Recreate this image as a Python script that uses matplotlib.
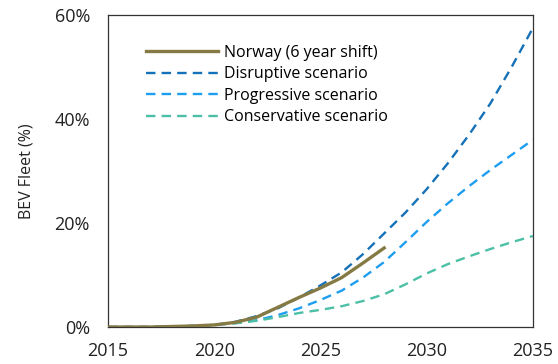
import matplotlib.pyplot as plt
from matplotlib.ticker import FuncFormatter

plt.rcParams['font.family'] = ['Open Sans', 'DejaVu Sans']

years = list(range(2015, 2036))
norway_years = list(range(2015, 2029))
norway = [0, 0, 0, 0.1, 0.2, 0.4, 0.9, 1.9, 3.8, 5.7, 7.5, 9.5, 12.3, 15.2]
disruptive = [0, 0, 0, 0.1, 0.2, 0.4, 1.0, 2.1, 3.6, 5.7, 8.0, 10.5, 14.0, 18.0,
              22.0, 26.5, 31.5, 37.0, 43.0, 50.0, 57.5]
progressive = [0, 0, 0, 0.1, 0.2, 0.4, 0.8, 1.3, 2.3, 3.6, 5.2, 7.0, 9.5, 12.5,
               16.3, 20.2, 23.8, 27.1, 30.2, 33.1, 36.0]
conservative = [0, 0, 0, 0.1, 0.2, 0.4, 0.7, 1.2, 1.9, 2.7, 3.3, 4.0, 5.0, 6.3,
                8.2, 10.3, 12.1, 13.6, 15.0, 16.3, 17.5]

fig = plt.figure(figsize=(5.58, 3.64), dpi=100)
ax = fig.add_axes([0.1935, 0.1016, 0.7615, 0.8572])

dash = (0, (4, 2.6))
ax.plot(norway_years, norway, color='#857A43', lw=2.4, label='Norway (6 year shift)', zorder=5)
ax.plot(years, disruptive, color='#1571B8', lw=1.7, ls=dash, label='Disruptive scenario')
ax.plot(years, progressive, color='#1E9EF0', lw=1.7, ls=dash, label='Progressive scenario')
ax.plot(years, conservative, color='#4CC0A6', lw=1.7, ls=dash, label='Conservative scenario')

ax.set_xlim(2015, 2035)
ax.set_ylim(0, 60)
ax.set_xticks(range(2015, 2036, 5))
ax.set_yticks(range(0, 61, 20))
ax.yaxis.set_major_formatter(FuncFormatter(lambda v, p: f'{v:.0f}%'))
ax.tick_params(length=0, labelsize=13, colors='#222222')
ax.tick_params(axis='x', pad=11)
ax.tick_params(axis='y', pad=13)
for s in ax.spines.values():
    s.set_color('#333333')
    s.set_linewidth(0.9)

ax.set_ylabel('BEV Fleet (%)', fontsize=11.5, color='#222222', labelpad=14)

ax.legend(loc='upper left', bbox_to_anchor=(0.09, 0.905), frameon=False, fontsize=11.5,
          handlelength=4.5, handletextpad=0.35, labelspacing=0.35, borderaxespad=0,
          borderpad=0)

fig.savefig('out.png', dpi=100)
